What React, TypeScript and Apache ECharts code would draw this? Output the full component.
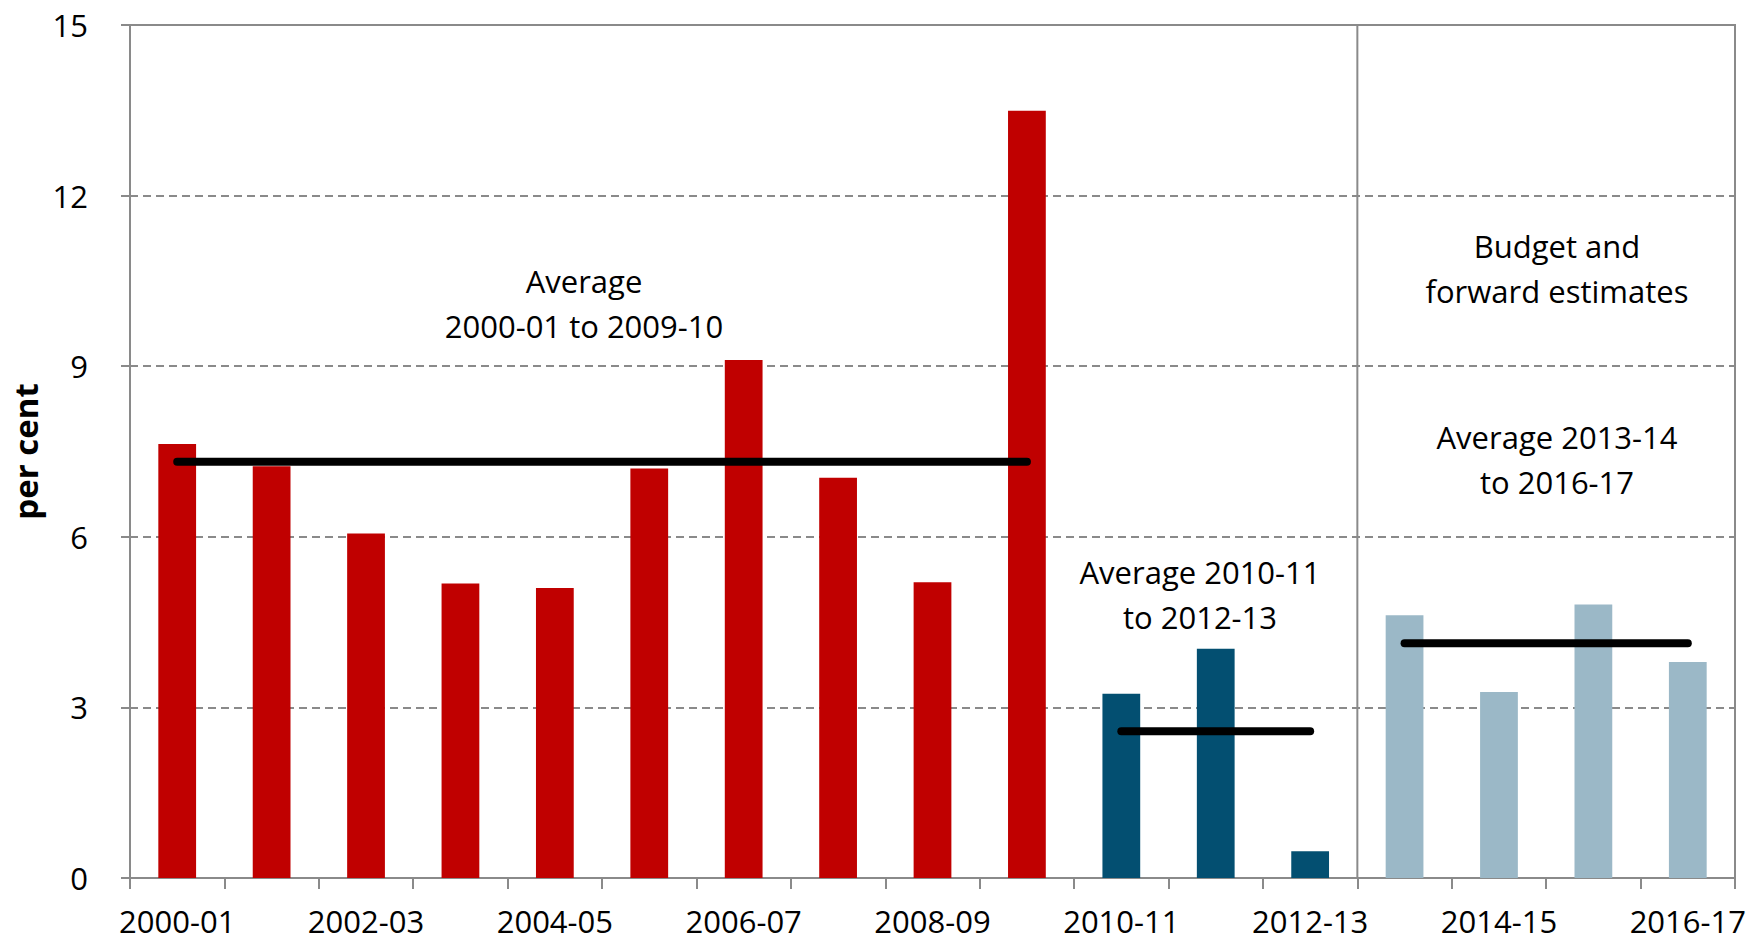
import React, { useEffect, useRef } from "react";
import * as echarts from "echarts";

const categories = [
  "2000-01", "2001-02", "2002-03", "2003-04", "2004-05", "2005-06", "2006-07",
  "2007-08", "2008-09", "2009-10", "2010-11", "2011-12", "2012-13",
  "2013-14", "2014-15", "2015-16", "2016-17",
];
const historicRed = [7.63, 7.24, 6.06, 5.18, 5.10, 7.20, 9.11, 7.04, 5.20, 13.49];
const recentBlue = [3.24, 4.03, 0.47];
const forecastLight = [4.62, 3.27, 4.81, 3.80];
const avg2000 = 7.32;
const avg2010 = 2.58;
const avg2013 = 4.13;
const yTicks = { min: 0, max: 15, interval: 3 };

const FONT = "Open Sans";

export default function App() {
  const ref = useRef<HTMLDivElement>(null);
  useEffect(() => {
    if (!ref.current) return;
    const chart = echarts.init(ref.current, undefined, { renderer: "svg" });
    const n = categories.length;
    const red = categories.map((_, i) => (i < historicRed.length ? historicRed[i] : null));
    const blue = categories.map((_, i) => {
      const j = i - historicRed.length;
      return j >= 0 && j < recentBlue.length ? recentBlue[j] : null;
    });
    const light = categories.map((_, i) => {
      const j = i - historicRed.length - recentBlue.length;
      return j >= 0 && j < forecastLight.length ? forecastLight[j] : null;
    });
    const sepIndex = historicRed.length + recentBlue.length;
    const avgLine = (from: number, to: number, v: number) => [
      [categories[from], v],
      [categories[to], v],
    ];
    const lineStyle = { color: "#000", width: 8, cap: "round" as const };
    const textStyle = (t: string) => ({
      text: t,
      font: `31px "${FONT}"`,
      fill: "#000",
      textAlign: "center",
      textVerticalAlign: "middle",
      lineHeight: 45,
    });
    chart.setOption({
      animation: false,
      grid: {
        left: 130,
        right: 22,
        top: 25,
        bottom: 63,
        show: true,
        borderColor: "#8a8a8a",
        borderWidth: 2,
      },
      xAxis: [
        {
          type: "category",
          data: categories,
          boundaryGap: true,
          axisLine: { lineStyle: { color: "#8a8a8a", width: 2 } },
          axisTick: { show: true, interval: 0, length: 11, lineStyle: { color: "#8a8a8a", width: 2 } },
          axisLabel: {
            interval: 1,
            color: "#000",
            fontSize: 31,
            lineHeight: 32,
            fontFamily: FONT,
            margin: 27,
          },
        },
        { type: "value", min: 0, max: n, show: false },
      ],
      yAxis: {
        type: "value",
        min: yTicks.min,
        max: yTicks.max,
        interval: yTicks.interval,
        name: "per cent",
        nameLocation: "middle",
        nameGap: 85,
        nameTextStyle: { color: "#000", fontSize: 33, fontWeight: "bold", fontFamily: FONT },
        axisLine: { show: true, lineStyle: { color: "#8a8a8a", width: 2 } },
        axisTick: { show: true, length: 9, lineStyle: { color: "#8a8a8a", width: 2 } },
        axisLabel: { color: "#000", fontSize: 31, fontFamily: FONT, margin: 42 },
        splitLine: { lineStyle: { color: "#8a8a8a", width: 2, type: [8, 5] } },
      },
      series: [
        { type: "bar", stack: "b", data: red, barWidth: "40%", itemStyle: { color: "#C00000" } },
        { type: "bar", stack: "b", data: blue, barWidth: "40%", itemStyle: { color: "#034F71" } },
        { type: "bar", stack: "b", data: light, barWidth: "40%", itemStyle: { color: "#9BB8C7" } },
        {
          type: "line",
          xAxisIndex: 1,
          data: [[sepIndex, yTicks.min], [sepIndex, yTicks.max]],
          symbol: "none",
          lineStyle: { color: "#8a8a8a", width: 2 },
          z: 1,
        },
        { type: "line", data: avgLine(0, 9, avg2000), symbol: "none", lineStyle, z: 5 },
        { type: "line", data: avgLine(10, 12, avg2010), symbol: "none", lineStyle, z: 5 },
        { type: "line", data: avgLine(13, 16, avg2013), symbol: "none", lineStyle, z: 5 },
      ],
      graphic: [
        { type: "text", x: 584, y: 303, style: textStyle("Average\n2000-01 to 2009-10") },
        { type: "text", x: 1200, y: 594, style: textStyle("Average 2010-11\nto 2012-13") },
        { type: "text", x: 1557, y: 268, style: textStyle("Budget and\nforward estimates") },
        { type: "text", x: 1557, y: 459, style: textStyle("Average 2013-14\nto 2016-17") },
      ],
    });
    return () => chart.dispose();
  }, []);
  return (
    <div
      ref={ref}
      style={{ position: "fixed", left: 0, top: 0, width: 1757, height: 941, background: "#fff" }}
    />
  );
}
